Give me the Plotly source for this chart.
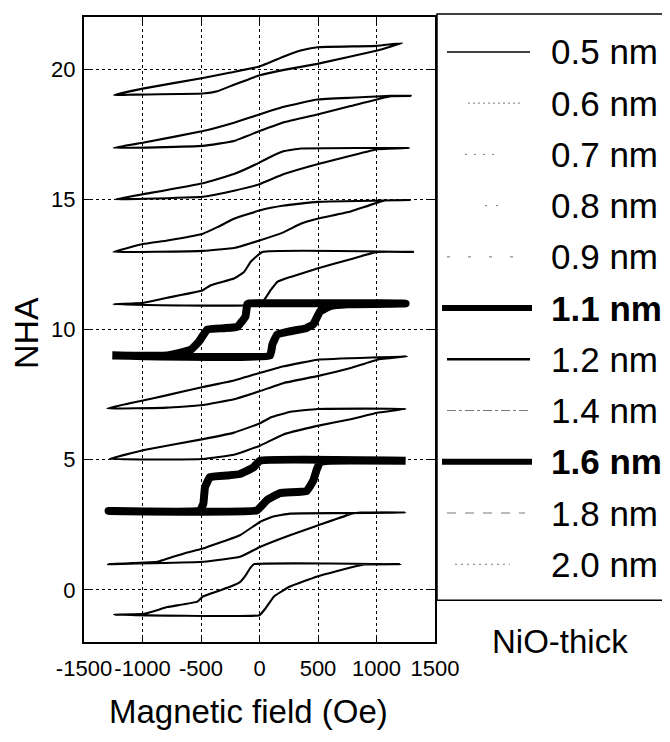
import plotly.graph_objects as go

# ---------------- data ----------------
labels = ["0.5 nm", "0.6 nm", "0.7 nm", "0.8 nm", "0.9 nm", "1.1 nm",
          "1.2 nm", "1.4 nm", "1.6 nm", "1.8 nm", "2.0 nm"]
bold_labels = ["1.1 nm", "1.6 nm"]

x_ticks = [-1500, -1000, -500, 0, 500, 1000, 1500]
x_ticktext = ["-1500", "-1000", "-500", "0", "500", "1000", "1500"]
y_ticks = [0, 5, 10, 15, 20]

# each loop: ascending branch (left tip -> right tip) then descending branch back
field_05 = [-1244, -1073, -483, -360, -218, 0, 209, 494, 1007, 1221,
            1000, 494, 352, 209, 0, -246, -483, -987, -1244]
nha_05 = [19.0, 19.02, 19.06, 19.15, 19.4, 19.76, 19.97, 20.2, 20.71, 21.0,
          20.89, 20.84, 20.71, 20.48, 20.1, 19.87, 19.66, 19.26, 19.0]

field_06 = [-1249, -483, -218, 0, 209, 494, 779, 1121, 1292,
            1121, 779, 494, 209, 0, -218, -483, -987, -1249]
nha_06 = [16.97, 17.05, 17.24, 17.62, 17.96, 18.26, 18.58, 18.96, 18.97,
          18.97, 18.9, 18.83, 18.55, 18.26, 17.94, 17.62, 17.18, 16.97]

field_07 = [-1229, -987, -483, -218, 0, 209, 494, 779, 1007, 1278,
            352, 209, 38, 0, -218, -483, -987, -1229]
nha_07 = [15.0, 15.02, 15.1, 15.33, 15.58, 15.97, 16.35, 16.67, 16.92, 16.97,
          16.95, 16.85, 16.5, 16.41, 15.97, 15.62, 15.2, 15.0]

field_08 = [-1249, -483, -218, 0, 209, 352, 494, 779, 1064, 1292,
            494, 209, 0, -218, -360, -483, -788, -987, -1249]
nha_08 = [12.98, 13.02, 13.13, 13.42, 13.74, 14.06, 14.25, 14.53, 14.95, 14.97,
          14.9, 14.76, 14.57, 14.25, 13.93, 13.68, 13.42, 13.29, 12.98]

field_09 = [-1249, 10, 95, 152, 266, 494, 779, 1007, 1320,
            24, -75, -132, -218, -417, -483, -788, -987, -1249]
nha_09 = [10.97, 10.97, 11.51, 11.83, 12.02, 12.34, 12.7, 12.98, 12.98,
          12.98, 12.6, 12.21, 11.96, 11.7, 11.51, 11.22, 11.03, 10.97]

field_11 = [-1258, 90, 110, 150, 250, 400, 460, 517, 603, 750, 1249,
            -90, -104, -120, -189, -300, -446, -517, -588, -788, -1258]
nha_11 = [9.0, 9.0, 9.42, 9.8, 9.92, 10.05, 10.2, 10.69, 10.9, 10.97, 11.0,
          11.0, 10.97, 10.5, 10.11, 10.05, 10.0, 9.54, 9.22, 9.0, 9.0]

field_12 = [-1301, -788, -483, -218, 0, 209, 494, 779, 1007, 1264,
            1007, 494, 209, 0, -218, -483, -788, -987, -1301]
nha_12 = [6.97, 7.0, 7.1, 7.32, 7.63, 7.95, 8.21, 8.52, 8.84, 8.97,
          8.93, 8.84, 8.59, 8.33, 8.04, 7.79, 7.48, 7.28, 6.97]

field_14 = [-1278, -483, -218, 0, 209, 494, 779, 1007, 1249,
            494, 266, 95, 0, -218, -483, -987, -1278]
nha_14 = [5.03, 5.03, 5.19, 5.53, 5.98, 6.3, 6.55, 6.8, 6.95,
          6.95, 6.84, 6.62, 6.39, 6.04, 5.79, 5.37, 5.03]

field_16 = [-1290, -24, 61, 175, 403, 460, 489, 517, 600, 1249,
            4, -53, -167, -280, -423, -466, -480, -509, -1290]
nha_16 = [3.03, 3.05, 3.44, 3.72, 3.8, 4.2, 4.62, 4.9, 4.96, 4.96,
          4.96, 4.7, 4.45, 4.39, 4.33, 3.94, 3.31, 3.05, 3.03]

field_18 = [-1295, -474, -167, 4, 260, 503, 790, 865, 1249,
            260, 118, 4, -167, -483, -645, -873, -1295]
nha_18 = [0.99, 1.08, 1.27, 1.65, 2.1, 2.48, 2.93, 2.97, 2.97,
          2.93, 2.82, 2.61, 2.1, 1.59, 1.4, 1.08, 0.99]

field_20 = [-1244, 0, 53, 124, 260, 489, 831, 893, 1207,
            -47, -81, -120, -167, -246, -483, -531, -788, -987, -1244]
nha_20 = [-0.95, -0.97, -0.7, -0.25, 0.13, 0.51, 0.92, 0.98, 0.99,
          0.99, 0.83, 0.55, 0.3, 0.13, -0.25, -0.45, -0.66, -0.92, -0.95]

fields = [field_05, field_06, field_07, field_08, field_09, field_11,
          field_12, field_14, field_16, field_18, field_20]
nhas = [nha_05, nha_06, nha_07, nha_08, nha_09, nha_11,
        nha_12, nha_14, nha_16, nha_18, nha_20]

# ---------------- styling ----------------
FONT = "Liberation Sans, Arial, Helvetica, sans-serif"
OFF = 8                      # page body margin of the html page
W, H = 670 - OFF, 742 - OFF
# plot area in reference-image pixels
L0, R0, T0, B0 = 84, 435, 15, 642
L, R, T, B = L0 - OFF, R0 - OFF, T0 - OFF, B0 - OFF


def px(xp):
    return (xp - OFF - L) / (R - L)


def py(yp):
    return (B - (yp - OFF)) / (B - T)


fig = go.Figure()
for lab, fx, ny in zip(labels, fields, nhas):
    thick = lab in bold_labels
    fig.add_trace(go.Scatter(
        x=fx, y=ny, mode="lines", name=lab, showlegend=False,
        line=dict(color="black", width=8 if thick else 2.1,
                  shape="spline", smoothing=0.3),
    ))

axis_common = dict(
    showgrid=True, gridcolor="black", griddash="dot", gridwidth=1,
    showline=True, linecolor="black", linewidth=2, mirror="ticks",
    ticks="inside", ticklen=6, tickcolor="black", zeroline=False,
    tickfont=dict(family=FONT, size=22, color="black"),
)
fig.update_xaxes(range=[-1500, 1500], tickvals=x_ticks, ticktext=x_ticktext,
                 tickangle=0, ticklabelstandoff=6, **axis_common)
fig.update_yaxes(range=[-2, 22], tickvals=y_ticks, ticklabelstandoff=2,
                 **axis_common)

# manual legend (long sample lines, as in the reference)
leg_styles = [
    dict(x0=447, x1=530, color="black", width=1.5, dash="solid"),
    dict(x0=468, x1=523, color="#777", width=1, dash="2px,3px"),
    dict(x0=465, x1=500, color="#777", width=1, dash="2px,7px"),
    dict(x0=485, x1=505, color="#777", width=1, dash="2px,9px"),
    dict(x0=447, x1=530, color="#777", width=1, dash="3px,18px"),
    dict(x0=442, x1=532, color="black", width=6, dash="solid"),
    dict(x0=447, x1=530, color="black", width=2.5, dash="solid"),
    dict(x0=447, x1=530, color="#777", width=1, dash="dashdot"),
    dict(x0=442, x1=532, color="black", width=6, dash="solid"),
    dict(x0=447, x1=525, color="#777", width=1, dash="dash"),
    dict(x0=455, x1=510, color="#777", width=1, dash="2px,4px"),
]
shapes = [dict(type="rect", xref="paper", yref="paper",
               x0=px(437), x1=px(680), y0=py(600), y1=py(12),
               line=dict(color="black", width=1.5), fillcolor="rgba(0,0,0,0)")]
annotations = []
for i, (lab, st) in enumerate(zip(labels, leg_styles)):
    yc = 50 + i * 51.4
    shapes.append(dict(type="line", xref="paper", yref="paper",
                       x0=px(st["x0"]), x1=px(st["x1"]), y0=py(yc), y1=py(yc),
                       line=dict(color=st["color"], width=st["width"], dash=st["dash"])))
    txt = f"<b>{lab}</b>" if lab in bold_labels else lab
    annotations.append(dict(xref="paper", yref="paper", x=px(549), y=py(yc),
                            xanchor="left", yanchor="middle", showarrow=False,
                            text=txt, font=dict(family=FONT, size=35, color="black")))

annotations.append(dict(xref="paper", yref="paper", x=px(560), y=py(641),
                        xanchor="center", yanchor="middle", showarrow=False,
                        text="NiO-thick", font=dict(family=FONT, size=33, color="black")))
annotations.append(dict(xref="paper", yref="paper", x=px(248), y=py(712),
                        xanchor="center", yanchor="middle", showarrow=False,
                        text="Magnetic field (Oe)", font=dict(family=FONT, size=33, color="black")))
annotations.append(dict(xref="paper", yref="paper", x=px(26), y=py(332),
                        xanchor="center", yanchor="middle", showarrow=False, textangle=-90,
                        text="NHA", font=dict(family=FONT, size=34, color="black")))

fig.update_layout(
    width=W, height=H,
    margin=dict(l=L, r=W - R, t=T, b=H - B, pad=0),
    paper_bgcolor="white", plot_bgcolor="white",
    showlegend=False,
    shapes=shapes, annotations=annotations,
    font=dict(family=FONT, color="black"),
)

fig.write_html("out.html")
